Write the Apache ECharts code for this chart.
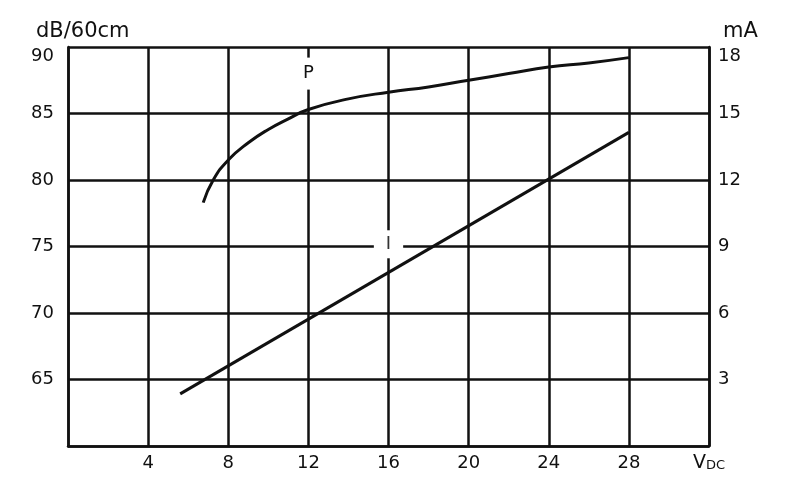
<!DOCTYPE html>
<html>
<head>
<meta charset="utf-8">
<script src="https://cdn.jsdelivr.net/npm/echarts@6/dist/echarts.min.js"></script>
<style>html,body{margin:0;padding:0;background:#fff;}#c{width:800px;height:500px;}</style>
</head>
<body>
<div id="c"></div>
<script>
// Sound level (dB at 60 cm) vs supply voltage
var soundCurve = [
  [6.75, 78.3], [7.25, 80.0], [8, 81.5], [9, 82.8], [10, 83.8], [11, 84.6],
  [12, 85.3], [14, 86.1], [16, 86.6], [18, 87.0], [20, 87.5], [22, 88.0],
  [24, 88.5], [26, 88.8], [28, 89.2]
];
// Current (mA) vs supply voltage
var currentLine = [[5.6, 2.35], [28, 14.15]];
// Curve labels
var labelP = [[12, 88.0]];
var labelI = [[16, 9.1]];
var xTicks = [0, 4, 8, 12, 16, 20, 24, 28, 32];
var leftTicks = [60, 65, 70, 75, 80, 85, 90];
var rightTicks = [0, 3, 6, 9, 12, 15, 18];

var FONT = 'DejaVu Sans';
var INK = '#111';
var chart = echarts.init(document.getElementById('c'), null, {renderer: 'canvas'});
chart.setOption({
  backgroundColor: '#fff',
  animation: false,
  title: [
    {text: 'dB/60cm', left: 31, top: 16, textStyle: {fontFamily: FONT, fontSize: 21, fontWeight: 'normal', color: INK}},
    {text: 'mA', left: 718, top: 16, textStyle: {fontFamily: FONT, fontSize: 21, fontWeight: 'normal', color: INK}}
  ],
  grid: {left: 68, right: 91, top: 47, bottom: 54},
  xAxis: {
    type: 'value', min: xTicks[0], max: xTicks[xTicks.length - 1], interval: 4,
    axisLine: {show: true, lineStyle: {color: INK, width: 2.5}},
    axisTick: {show: false},
    splitLine: {show: true, lineStyle: {color: INK, width: 2.5}},
    axisLabel: {
      margin: 8, color: INK, fontFamily: FONT, fontSize: 18,
      formatter: function (v) {
        if (v === 0) return '';
        if (v === 32) return '{v|V}{s|DC}';
        return String(v);
      },
      rich: {
        v: {fontFamily: FONT, fontSize: 19, color: INK, verticalAlign: 'bottom'},
        s: {fontFamily: FONT, fontSize: 13, color: INK, verticalAlign: 'bottom', padding: [0, 0, 1, 0]}
      }
    }
  },
  yAxis: [
    {
      type: 'value', min: leftTicks[0], max: leftTicks[leftTicks.length - 1], interval: 5,
      axisLine: {show: true, lineStyle: {color: INK, width: 2.5}},
      axisTick: {show: false},
      splitLine: {show: true, lineStyle: {color: INK, width: 2.5}},
      axisLabel: {
        margin: 14, color: INK, fontFamily: FONT, fontSize: 18,
        formatter: function (v) {
          if (v === 60) return '';
          if (v === 90) return '{t|' + v + '}';
          return String(v);
        },
        rich: {t: {fontFamily: FONT, fontSize: 18, color: INK, padding: [18, 0, 0, 0]}}
      }
    },
    {
      type: 'value', min: rightTicks[0], max: rightTicks[rightTicks.length - 1], interval: 3,
      position: 'right',
      axisLine: {show: true, lineStyle: {color: INK, width: 2.5}},
      axisTick: {show: false},
      splitLine: {show: false},
      axisLabel: {
        margin: 9, color: INK, fontFamily: FONT, fontSize: 18,
        formatter: function (v) {
          if (v === 0) return '';
          if (v === 18) return '{t|' + v + '}';
          return String(v);
        },
        rich: {t: {fontFamily: FONT, fontSize: 18, color: INK, padding: [18, 0, 0, 0]}}
      }
    }
  ],
  series: [
    {
      type: 'line', data: soundCurve, yAxisIndex: 0, smooth: 0.5, showSymbol: false,
      lineStyle: {color: INK, width: 3}, z: 3
    },
    {
      type: 'line', data: currentLine, yAxisIndex: 1, showSymbol: false,
      lineStyle: {color: INK, width: 3}, z: 3
    },
    {
      type: 'scatter', data: labelP, yAxisIndex: 0, symbolSize: 0, z: 4,
      itemStyle: {opacity: 1},
      label: {
        show: true, position: 'inside', formatter: 'P', color: INK,
        fontFamily: FONT, fontSize: 18, backgroundColor: '#fff', padding: [12, 6, 2, 6]
      }
    },
    {
      type: 'scatter', data: labelI, yAxisIndex: 1, symbolSize: 0, z: 4,
      itemStyle: {opacity: 1},
      label: {
        show: true, position: 'inside', formatter: 'I', color: '#333',
        fontFamily: FONT, fontSize: 18, backgroundColor: '#fff', padding: [5, 12, 5, 12]
      }
    }
  ]
});
</script>
</body>
</html>
